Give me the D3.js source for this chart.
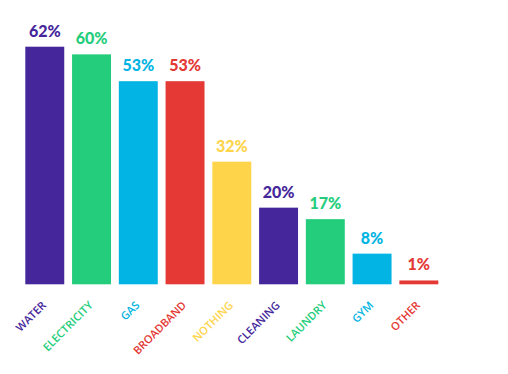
<!DOCTYPE html>
<html>
<head>
<meta charset="utf-8">
<script src="https://cdn.jsdelivr.net/npm/d3@7"></script>
<style>
  html, body { margin: 0; padding: 0; background: #fff; }
  svg { display: block; }
</style>
</head>
<body>
<svg id="chart" width="508" height="374"></svg>
<script>
// Share of respondents per bill category
const categories = ["WATER", "ELECTRICITY", "GAS", "BROADBAND", "NOTHING", "CLEANING", "LAUNDRY", "GYM", "OTHER"];
const values = [62, 60, 53, 53, 32, 20, 17, 8, 1];
const palette = ["#45279b", "#23cd7b", "#02b4e3", "#e43935", "#fed44b", "#45279b", "#23cd7b", "#02b4e3", "#e43935"];

const svg = d3.select("#chart");

const x = d3.scaleBand()
  .domain(categories)
  .range([25.3, 438.3])
  .paddingInner(0.167)
  .paddingOuter(0);

const y = d3.scaleLinear()
  .domain([0, 62])
  .range([284.3, 46.7]);

const data = categories.map((c, i) => ({ c, v: values[i], color: palette[i] }));

// Bars
svg.append("g").selectAll("rect")
  .data(data)
  .join("rect")
  .attr("x", d => x(d.c))
  .attr("y", d => y(d.v))
  .attr("width", x.bandwidth())
  .attr("height", d => y(0) - y(d.v))
  .attr("fill", d => d.color);

// Value labels
svg.append("g").selectAll("text")
  .data(data)
  .join("text")
  .attr("x", d => x(d.c) + x.bandwidth() / 2)
  .attr("y", d => y(d.v) - 10)
  .attr("text-anchor", "middle")
  .attr("font-family", "Lato, sans-serif")
  .attr("font-weight", 900)
  .attr("font-size", 16)
  .attr("fill", d => d.color)
  .text(d => d.v + "%");

// Rotated category labels
svg.append("g").selectAll("text")
  .data(data)
  .join("text")
  .attr("transform", d => `translate(${x(d.c) + x.bandwidth() / 2 + 2},306) rotate(-45)`)
  .attr("text-anchor", "end")
  .attr("font-family", "'Open Sans', sans-serif")
  .attr("font-weight", 600)
  .attr("font-size", 11)
  .attr("fill", d => d.color)
  .text(d => d.c);
</script>
</body>
</html>
